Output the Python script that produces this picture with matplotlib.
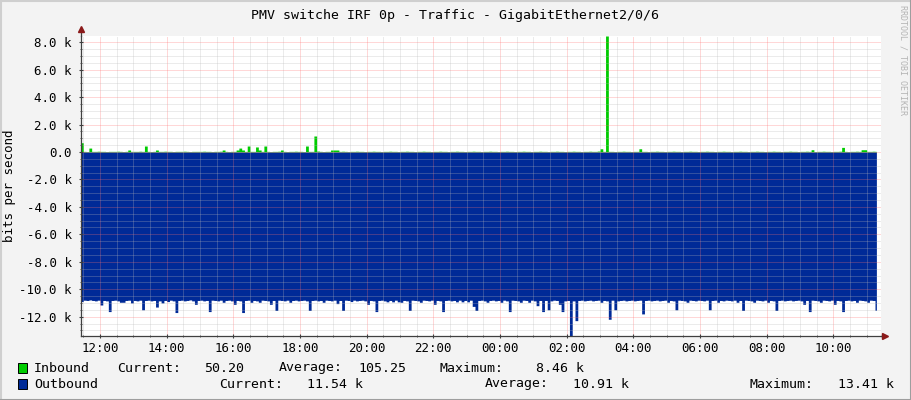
import pandas as pd
import matplotlib
matplotlib.use("Agg")
from matplotlib import pyplot as plt
import matplotlib.dates as mdates
from matplotlib.ticker import MultipleLocator, FuncFormatter
from matplotlib.patches import Rectangle
from matplotlib.lines import Line2D

plt.rcParams['font.family'] = ['DejaVu Sans Mono']

# 5 minute samples over one day, values in k bits/s
times = pd.date_range("2024-05-06 11:22:30", periods=288, freq="5min")

inbound = [
    0.05, 0.68, 0.05, 0.04, 0.29, 0.05, 0.05, 0.06, 0.05, 0.05, 0.04, 0.05,
    0.05, 0.05, 0.06, 0.05, 0.04, 0.05, 0.15, 0.05, 0.05, 0.05, 0.06, 0.05,
    0.44, 0.05, 0.04, 0.05, 0.15, 0.05, 0.05, 0.06, 0.05, 0.05, 0.04, 0.05,
    0.05, 0.05, 0.06, 0.05, 0.04, 0.05, 0.05, 0.05, 0.05, 0.06, 0.05, 0.05,
    0.04, 0.05, 0.05, 0.06, 0.15, 0.05, 0.04, 0.05, 0.05, 0.15, 0.29, 0.15,
    0.05, 0.44, 0.05, 0.05, 0.37, 0.15, 0.05, 0.44, 0.05, 0.04, 0.05, 0.05,
    0.06, 0.15, 0.05, 0.04, 0.05, 0.05, 0.06, 0.05, 0.05, 0.04, 0.44, 0.05,
    0.05, 1.17, 0.07, 0.05, 0.04, 0.05, 0.05, 0.15, 0.15, 0.15, 0.05, 0.06,
    0.05, 0.04, 0.05, 0.05, 0.06, 0.05, 0.05, 0.04, 0.05, 0.05, 0.06, 0.05,
    0.05, 0.04, 0.05, 0.05, 0.06, 0.05, 0.05, 0.04, 0.05, 0.05, 0.06, 0.05,
    0.05, 0.04, 0.05, 0.05, 0.06, 0.05, 0.05, 0.04, 0.05, 0.05, 0.06, 0.05,
    0.05, 0.04, 0.05, 0.05, 0.06, 0.05, 0.05, 0.04, 0.05, 0.05, 0.06, 0.05,
    0.05, 0.04, 0.05, 0.05, 0.06, 0.05, 0.05, 0.04, 0.05, 0.05, 0.06, 0.05,
    0.05, 0.04, 0.05, 0.05, 0.06, 0.05, 0.05, 0.04, 0.05, 0.05, 0.06, 0.05,
    0.05, 0.04, 0.05, 0.05, 0.06, 0.05, 0.05, 0.04, 0.05, 0.05, 0.06, 0.05,
    0.05, 0.04, 0.05, 0.05, 0.06, 0.05, 0.05, 0.07, 0.24, 0.05, 8.46, 0.05,
    0.05, 0.04, 0.05, 0.05, 0.06, 0.05, 0.05, 0.04, 0.05, 0.05, 0.24, 0.05,
    0.05, 0.04, 0.05, 0.05, 0.06, 0.05, 0.05, 0.04, 0.05, 0.05, 0.06, 0.05,
    0.05, 0.04, 0.05, 0.05, 0.06, 0.05, 0.05, 0.04, 0.05, 0.05, 0.06, 0.05,
    0.05, 0.04, 0.05, 0.05, 0.06, 0.05, 0.05, 0.04, 0.05, 0.05, 0.06, 0.05,
    0.05, 0.04, 0.05, 0.05, 0.06, 0.05, 0.05, 0.04, 0.05, 0.05, 0.06, 0.05,
    0.05, 0.04, 0.05, 0.05, 0.06, 0.05, 0.05, 0.04, 0.05, 0.05, 0.06, 0.05,
    0.17, 0.04, 0.05, 0.05, 0.06, 0.05, 0.05, 0.04, 0.05, 0.05, 0.06, 0.34,
    0.05, 0.04, 0.05, 0.05, 0.06, 0.05, 0.17, 0.17, 0.05, 0.05, 0.06, 0.0502,
]

outbound = [
    -10.82, -10.90, -10.80, -10.82, -10.78, -10.82, -10.85, -10.80, -11.15, -10.82, -10.85, -11.63,
    -10.82, -10.80, -10.85, -10.95, -10.95, -10.82, -10.80, -11.00, -10.82, -10.85, -10.80, -11.50,
    -10.82, -10.80, -10.85, -10.82, -11.30, -10.85, -11.00, -10.82, -10.90, -10.80, -10.85, -11.70,
    -10.82, -10.80, -10.85, -10.82, -10.78, -10.85, -11.10, -10.82, -10.80, -10.85, -10.82, -11.63,
    -10.80, -10.82, -10.85, -10.80, -10.95, -10.82, -10.80, -10.85, -11.10, -10.82, -10.85, -11.70,
    -10.82, -10.80, -10.95, -10.82, -10.85, -10.95, -10.80, -10.82, -10.85, -11.10, -10.82, -11.55,
    -10.80, -10.82, -10.85, -10.80, -10.95, -10.82, -10.80, -10.85, -10.82, -10.80, -10.85, -11.55,
    -10.82, -10.80, -10.85, -10.82, -10.95, -10.80, -10.82, -10.85, -10.80, -11.05, -10.82, -11.55,
    -10.80, -10.82, -10.90, -10.80, -10.85, -10.82, -10.80, -10.85, -11.10, -10.82, -10.85, -11.63,
    -10.82, -10.80, -10.85, -10.92, -10.82, -10.92, -10.80, -10.92, -10.95, -10.82, -10.85, -11.55,
    -10.80, -10.82, -10.85, -10.95, -10.80, -10.82, -10.85, -10.80, -11.10, -10.82, -10.85, -11.63,
    -10.82, -10.80, -10.85, -10.82, -10.92, -10.80, -10.92, -10.82, -10.92, -10.80, -11.25, -11.55,
    -10.82, -10.80, -10.85, -10.95, -10.82, -10.80, -10.85, -10.82, -10.95, -10.80, -10.85, -11.63,
    -10.80, -10.82, -10.85, -10.95, -10.80, -10.82, -10.95, -10.80, -10.85, -11.20, -10.82, -11.63,
    -10.82, -11.50, -10.85, -10.80, -10.82, -11.10, -11.63, -10.85, -10.82, -13.41, -10.85, -12.29,
    -10.82, -10.80, -10.85, -10.82, -10.80, -10.85, -10.82, -10.80, -10.95, -10.82, -10.85, -12.19,
    -10.80, -11.50, -10.85, -10.82, -10.80, -10.85, -10.82, -10.80, -10.85, -10.82, -10.80, -11.80,
    -10.82, -10.80, -10.85, -10.82, -10.80, -10.85, -10.82, -10.80, -10.95, -10.82, -10.85, -11.50,
    -10.80, -10.82, -10.85, -10.95, -10.80, -10.82, -10.85, -10.80, -10.82, -10.85, -10.80, -11.50,
    -10.82, -10.80, -10.95, -10.82, -10.85, -10.80, -10.82, -10.85, -10.80, -10.95, -10.82, -11.55,
    -10.80, -10.82, -10.85, -10.95, -10.80, -10.82, -10.85, -10.80, -10.95, -10.82, -10.85, -11.55,
    -10.82, -10.80, -10.85, -10.82, -10.80, -10.85, -10.82, -10.80, -10.85, -11.10, -10.82, -11.63,
    -10.80, -10.82, -10.85, -10.95, -10.80, -10.82, -10.85, -10.80, -11.10, -10.82, -10.85, -11.63,
    -10.82, -10.80, -10.85, -10.82, -10.95, -10.80, -10.82, -10.85, -10.95, -10.80, -10.82, -11.54,
]

legend_rows = [
    ("Inbound", "#00cc00", [("Current:", 117), ("50.20", 204), ("Average:", 279),
                            ("105.25", 358), ("Maximum:", 440), ("8.46 k", 536)]),
    ("Outbound", "#002a97", [("Current:", 219), ("11.54 k", 307), ("Average:", 485),
                             ("10.91 k", 573), ("Maximum:", 749), ("13.41 k", 838)]),
]

W, H = 911, 400
fig = plt.figure(figsize=(W / 100, H / 100), dpi=100, facecolor="#f3f3f3")
ax = fig.add_axes([81 / W, 64 / H, 800 / W, 300 / H], facecolor="white")

ax.fill_between(times, 0, inbound, step="mid", color="#00cc00", lw=0)
ax.fill_between(times, 0, outbound, step="mid", color="#002a97", lw=0)

t0 = pd.Timestamp("2024-05-06 11:25:48")
ax.set_xlim(t0, t0 + pd.Timedelta(hours=24))
ax.set_ylim(-13.41, 8.46)

ax.xaxis.set_major_locator(mdates.HourLocator(byhour=range(0, 24, 2)))
ax.xaxis.set_minor_locator(mdates.MinuteLocator(byminute=[0, 30]))
ax.xaxis.set_major_formatter(mdates.DateFormatter("%H:%M"))
ax.yaxis.set_major_locator(MultipleLocator(2))
ax.yaxis.set_minor_locator(MultipleLocator(0.5))
ax.yaxis.set_major_formatter(FuncFormatter(lambda v, p: "0.0" if abs(v) < 1e-9 else f"{v:.1f} k"))

ax.set_axisbelow(False)
ax.grid(which="minor", color="#b8b8b8", alpha=0.55, ls=(0, (1, 1)), lw=0.72)
ax.grid(which="major", color="#ff7070", alpha=0.55, ls=(0, (1, 1)), lw=0.72)

for s in ["top", "right"]:
    ax.spines[s].set_visible(False)
for s in ["left", "bottom"]:
    ax.spines[s].set_color("#404040")
    ax.spines[s].set_linewidth(0.9)
ax.tick_params(which="both", colors="#404040", labelcolor="black", labelsize=9, direction="inout")
ax.tick_params(which="major", length=3)
ax.tick_params(which="minor", length=2)
ax.tick_params(axis="x", pad=3)
ax.tick_params(axis="y", pad=5)

# axis extensions and arrows
ax.plot([0, 0], [1, 1.02], transform=ax.transAxes, color="#404040", lw=0.9, clip_on=False)
ax.plot([1, 1.004], [0, 0], transform=ax.transAxes, color="#404040", lw=0.9, clip_on=False)
ax.plot([0], [1.022], transform=ax.transAxes, marker="^", color="#8b1a1a", ms=4, clip_on=False)
ax.plot([1.005], [0], transform=ax.transAxes, marker=">", color="#8b1a1a", ms=4, clip_on=False)

fig.text(455 / W, 1 - 15 / H, "PMV switche IRF 0p - Traffic - GigabitEthernet2/0/6",
         ha="center", va="center", fontsize=9.5)
fig.text(10 / W, 1 - 186 / H, "bits per second", rotation=90, ha="center", va="center", fontsize=9)
fig.text(903 / W, 1 - 60 / H, "RRDTOOL / TOBI OETIKER", rotation=270, ha="center", va="center",
         fontsize=6, color="#b4b4b4")

for row, (name, color, items) in enumerate(legend_rows):
    yc = 368 + 16 * row
    fig.patches.append(Rectangle((17.5 / W, 1 - (yc + 5) / H), 9 / W, 10 / H, transform=fig.transFigure,
                                 facecolor=color, edgecolor="black", lw=0.7))
    fig.text(34 / W, 1 - yc / H, name, ha="left", va="center", fontsize=9.5)
    for txt, x in items:
        fig.text(x / W, 1 - yc / H, txt, ha="left", va="center", fontsize=9.5)

# 3d border
fig.add_artist(Line2D([0, 1], [1 - 0.5 / H, 1 - 0.5 / H], transform=fig.transFigure, color="#cfcfcf", lw=1.5))
fig.add_artist(Line2D([0.5 / W, 0.5 / W], [0, 1], transform=fig.transFigure, color="#cfcfcf", lw=1.5))
fig.add_artist(Line2D([0, 1], [0.5 / H, 0.5 / H], transform=fig.transFigure, color="#9e9e9e", lw=1.5))
fig.add_artist(Line2D([1 - 0.5 / W, 1 - 0.5 / W], [0, 1], transform=fig.transFigure, color="#9e9e9e", lw=1.5))

fig.savefig("out.png", dpi=100, facecolor=fig.get_facecolor())
